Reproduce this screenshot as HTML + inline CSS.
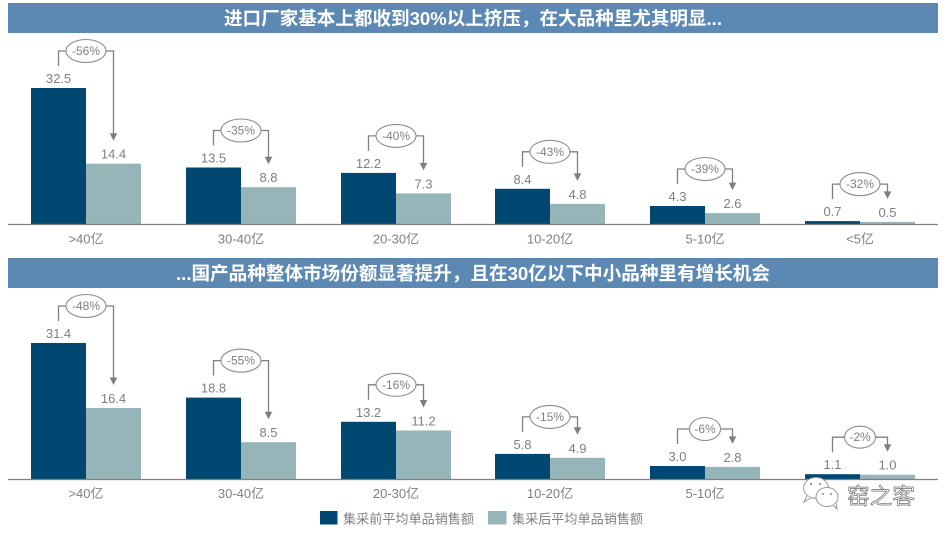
<!DOCTYPE html>
<html><head><meta charset="utf-8"><style>
html,body{margin:0;padding:0;background:#fff;}
svg{display:block;}
text{font-family:"Liberation Sans","Noto Sans CJK SC",sans-serif;}
.v{font-size:13px;fill:#7f7f7f;text-anchor:middle;}
.c{font-size:13px;fill:#7f7f7f;text-anchor:middle;}
.p{font-size:12px;fill:#7f7f7f;text-anchor:middle;}
.br{fill:none;stroke:#7f7f7f;stroke-width:1.3;}
.el{fill:#fff;stroke:#8c8c8c;stroke-width:1.1;}
.ah{fill:#7f7f7f;}
.d{fill:#004872;}
.l{fill:#95b5b8;}
.t{font-family:"Liberation Sans","Noto Sans CJK SC",sans-serif;font-weight:bold;font-size:18.5px;fill:#fff;}
</style></head><body>
<svg width="946" height="535" viewBox="0 0 946 535" xmlns="http://www.w3.org/2000/svg">
<!-- Top banner -->
<rect x="8" y="3" width="930" height="30" fill="#5c89b3"/>
<text class="t" x="224" y="25" textLength="498" lengthAdjust="spacingAndGlyphs">进口厂家基本上都收到30%以上挤压，在大品种里尤其明显...</text>

<!-- Top chart bars -->
<rect class="d" x="31" y="88" width="55" height="136"/>
<rect class="l" x="86" y="163.7" width="55" height="60.3"/>
<rect class="d" x="186" y="167.5" width="55" height="56.5"/>
<rect class="l" x="241" y="187.2" width="55" height="36.8"/>
<rect class="d" x="341" y="172.9" width="55" height="51.1"/>
<rect class="l" x="396" y="193.4" width="55" height="30.6"/>
<rect class="d" x="495" y="188.8" width="55" height="35.2"/>
<rect class="l" x="550" y="203.9" width="55" height="20.1"/>
<rect class="d" x="650" y="206" width="55" height="18"/>
<rect class="l" x="705" y="213.1" width="55" height="10.9"/>
<rect class="d" x="805" y="221.1" width="55" height="2.9"/>
<rect class="l" x="860" y="221.9" width="55" height="2.1"/>
<line x1="8" y1="224.5" x2="938" y2="224.5" stroke="#808080" stroke-width="1.3"/>

<!-- Top values -->
<text class="v" x="58.5" y="83">32.5</text><text class="v" x="113.5" y="158.7">14.4</text>
<text class="v" x="213.5" y="162.5">13.5</text><text class="v" x="268.5" y="182.2">8.8</text>
<text class="v" x="368.5" y="167.9">12.2</text><text class="v" x="423.5" y="188.4">7.3</text>
<text class="v" x="522.5" y="183.8">8.4</text><text class="v" x="577.5" y="198.9">4.8</text>
<text class="v" x="677.5" y="201">4.3</text><text class="v" x="732.5" y="208.1">2.6</text>
<text class="v" x="832.5" y="216.1">0.7</text><text class="v" x="887.5" y="216.9">0.5</text>

<!-- Top annotations -->
<path class="br" d="M58.5 66 V51 H113.5 V134"/>
<polygon class="ah" points="109.7,133.2 117.3,133.2 113.5,140.7"/>
<ellipse class="el" cx="86" cy="51" rx="20" ry="11.5"/><text class="p" x="86" y="55">-56%</text>

<path class="br" d="M213.5 145.5 V130.5 H268.5 V157.5"/>
<polygon class="ah" points="264.7,156.7 272.3,156.7 268.5,164.2"/>
<ellipse class="el" cx="241" cy="130.5" rx="20" ry="11.5"/><text class="p" x="241" y="134.5">-35%</text>

<path class="br" d="M368.5 150.9 V135.9 H423.5 V163.7"/>
<polygon class="ah" points="419.7,162.9 427.3,162.9 423.5,170.4"/>
<ellipse class="el" cx="396" cy="135.9" rx="20" ry="11.5"/><text class="p" x="396" y="139.9">-40%</text>

<path class="br" d="M522.5 166.8 V151.8 H577.5 V174.2"/>
<polygon class="ah" points="573.7,173.4 581.3,173.4 577.5,180.9"/>
<ellipse class="el" cx="550" cy="151.8" rx="20" ry="11.5"/><text class="p" x="550" y="155.8">-43%</text>

<path class="br" d="M677.5 184 V169 H732.5 V183.4"/>
<polygon class="ah" points="728.7,182.6 736.3,182.6 732.5,190.1"/>
<ellipse class="el" cx="705" cy="169" rx="20" ry="11.5"/><text class="p" x="705" y="173">-39%</text>

<path class="br" d="M832.5 199.1 V184.1 H887.5 V192.2"/>
<polygon class="ah" points="883.7,191.4 891.3,191.4 887.5,198.9"/>
<ellipse class="el" cx="860" cy="184.1" rx="20" ry="11.5"/><text class="p" x="860" y="188.1">-32%</text>

<!-- Top categories -->
<text class="c" x="86" y="243.5">&gt;40亿</text>
<text class="c" x="241" y="243.5">30-40亿</text>
<text class="c" x="396" y="243.5">20-30亿</text>
<text class="c" x="550" y="243.5">10-20亿</text>
<text class="c" x="705" y="243.5">5-10亿</text>
<text class="c" x="860" y="243.5">&lt;5亿</text>

<!-- Bottom banner -->
<rect x="8" y="258" width="930" height="30" fill="#5c89b3"/>
<text class="t" x="176" y="280" textLength="594" lengthAdjust="spacingAndGlyphs">...国产品种整体市场份额显著提升，且在30亿以下中小品种里有增长机会</text>

<!-- Bottom bars -->
<rect class="d" x="31" y="343" width="55" height="136"/>
<rect class="l" x="86" y="408" width="55" height="71"/>
<rect class="d" x="186" y="397.6" width="55" height="81.4"/>
<rect class="l" x="241" y="442.2" width="55" height="36.8"/>
<rect class="d" x="341" y="421.8" width="55" height="57.2"/>
<rect class="l" x="396" y="430.5" width="55" height="48.5"/>
<rect class="d" x="495" y="453.9" width="55" height="25.1"/>
<rect class="l" x="550" y="457.8" width="55" height="21.2"/>
<rect class="d" x="650" y="466" width="55" height="13"/>
<rect class="l" x="705" y="466.9" width="55" height="12.1"/>
<rect class="d" x="805" y="474.2" width="55" height="4.8"/>
<rect class="l" x="860" y="474.7" width="55" height="4.3"/>
<line x1="8" y1="479.5" x2="938" y2="479.5" stroke="#808080" stroke-width="1.3"/>

<!-- Bottom values -->
<text class="v" x="58.5" y="338">31.4</text><text class="v" x="113.5" y="403">16.4</text>
<text class="v" x="213.5" y="392.6">18.8</text><text class="v" x="268.5" y="437.2">8.5</text>
<text class="v" x="368.5" y="416.8">13.2</text><text class="v" x="423.5" y="425.5">11.2</text>
<text class="v" x="522.5" y="448.9">5.8</text><text class="v" x="577.5" y="452.8">4.9</text>
<text class="v" x="677.5" y="461">3.0</text><text class="v" x="732.5" y="461.9">2.8</text>
<text class="v" x="832.5" y="469.2">1.1</text><text class="v" x="887.5" y="469.7">1.0</text>

<!-- Bottom annotations -->
<path class="br" d="M58.5 321 V306 H113.5 V378.3"/>
<polygon class="ah" points="109.7,377.5 117.3,377.5 113.5,385"/>
<ellipse class="el" cx="86" cy="306" rx="20" ry="11.5"/><text class="p" x="86" y="310">-48%</text>

<path class="br" d="M213.5 375.6 V360.6 H268.5 V412.5"/>
<polygon class="ah" points="264.7,411.7 272.3,411.7 268.5,419.2"/>
<ellipse class="el" cx="241" cy="360.6" rx="20" ry="11.5"/><text class="p" x="241" y="364.6">-55%</text>

<path class="br" d="M368.5 399.8 V384.8 H423.5 V400.8"/>
<polygon class="ah" points="419.7,400 427.3,400 423.5,407.5"/>
<ellipse class="el" cx="396" cy="384.8" rx="20" ry="11.5"/><text class="p" x="396" y="388.8">-16%</text>

<path class="br" d="M522.5 431.9 V416.9 H577.5 V428.1"/>
<polygon class="ah" points="573.7,427.3 581.3,427.3 577.5,434.8"/>
<ellipse class="el" cx="550" cy="416.9" rx="20" ry="11.5"/><text class="p" x="550" y="420.9">-15%</text>

<path class="br" d="M677.5 444 V429 H732.5 V437.2"/>
<polygon class="ah" points="728.7,436.4 736.3,436.4 732.5,443.9"/>
<ellipse class="el" cx="705" cy="429" rx="15.5" ry="11.5"/><text class="p" x="705" y="433">-6%</text>

<path class="br" d="M832.5 452.2 V437.2 H887.5 V445"/>
<polygon class="ah" points="883.7,444.2 891.3,444.2 887.5,451.7"/>
<ellipse class="el" cx="860" cy="437.2" rx="15.5" ry="11" /><text class="p" x="860" y="441.2">-2%</text>

<!-- Bottom categories -->
<text class="c" x="86" y="498">&gt;40亿</text>
<text class="c" x="241" y="498">30-40亿</text>
<text class="c" x="396" y="498">20-30亿</text>
<text class="c" x="550" y="498">10-20亿</text>
<text class="c" x="705" y="498">5-10亿</text>

<!-- Watermark -->
<g fill="#fff" stroke="#9a9a9a" stroke-width="1">
<ellipse cx="816" cy="488" rx="12.5" ry="10.5"/>
<path d="M807 496 L804 502 L811 498" />
<ellipse cx="827" cy="497" rx="11" ry="9.5"/>
<path d="M833 505 L837 509 L836 503"/>
</g>
<g fill="#9a9a9a">
<circle cx="811" cy="484" r="1.2"/><circle cx="820" cy="484" r="1.2"/>
<circle cx="823" cy="494" r="1.1"/><circle cx="831" cy="494" r="1.1"/>
</g>
<text x="847" y="504" font-size="22" fill="#fff" stroke="#6f6f6f" stroke-width="0.7" textLength="68" lengthAdjust="spacingAndGlyphs">窑之客</text>

<!-- Legend -->
<rect x="320" y="511" width="17.5" height="13.5" fill="#004872"/>
<text x="343" y="523.5" font-size="13" fill="#7f7f7f" textLength="131" lengthAdjust="spacingAndGlyphs">集采前平均单品销售额</text>
<rect x="488" y="511" width="18.5" height="13.5" fill="#95b5b8"/>
<text x="512" y="523.5" font-size="13" fill="#7f7f7f" textLength="131" lengthAdjust="spacingAndGlyphs">集采后平均单品销售额</text>
</svg>
</body></html>
